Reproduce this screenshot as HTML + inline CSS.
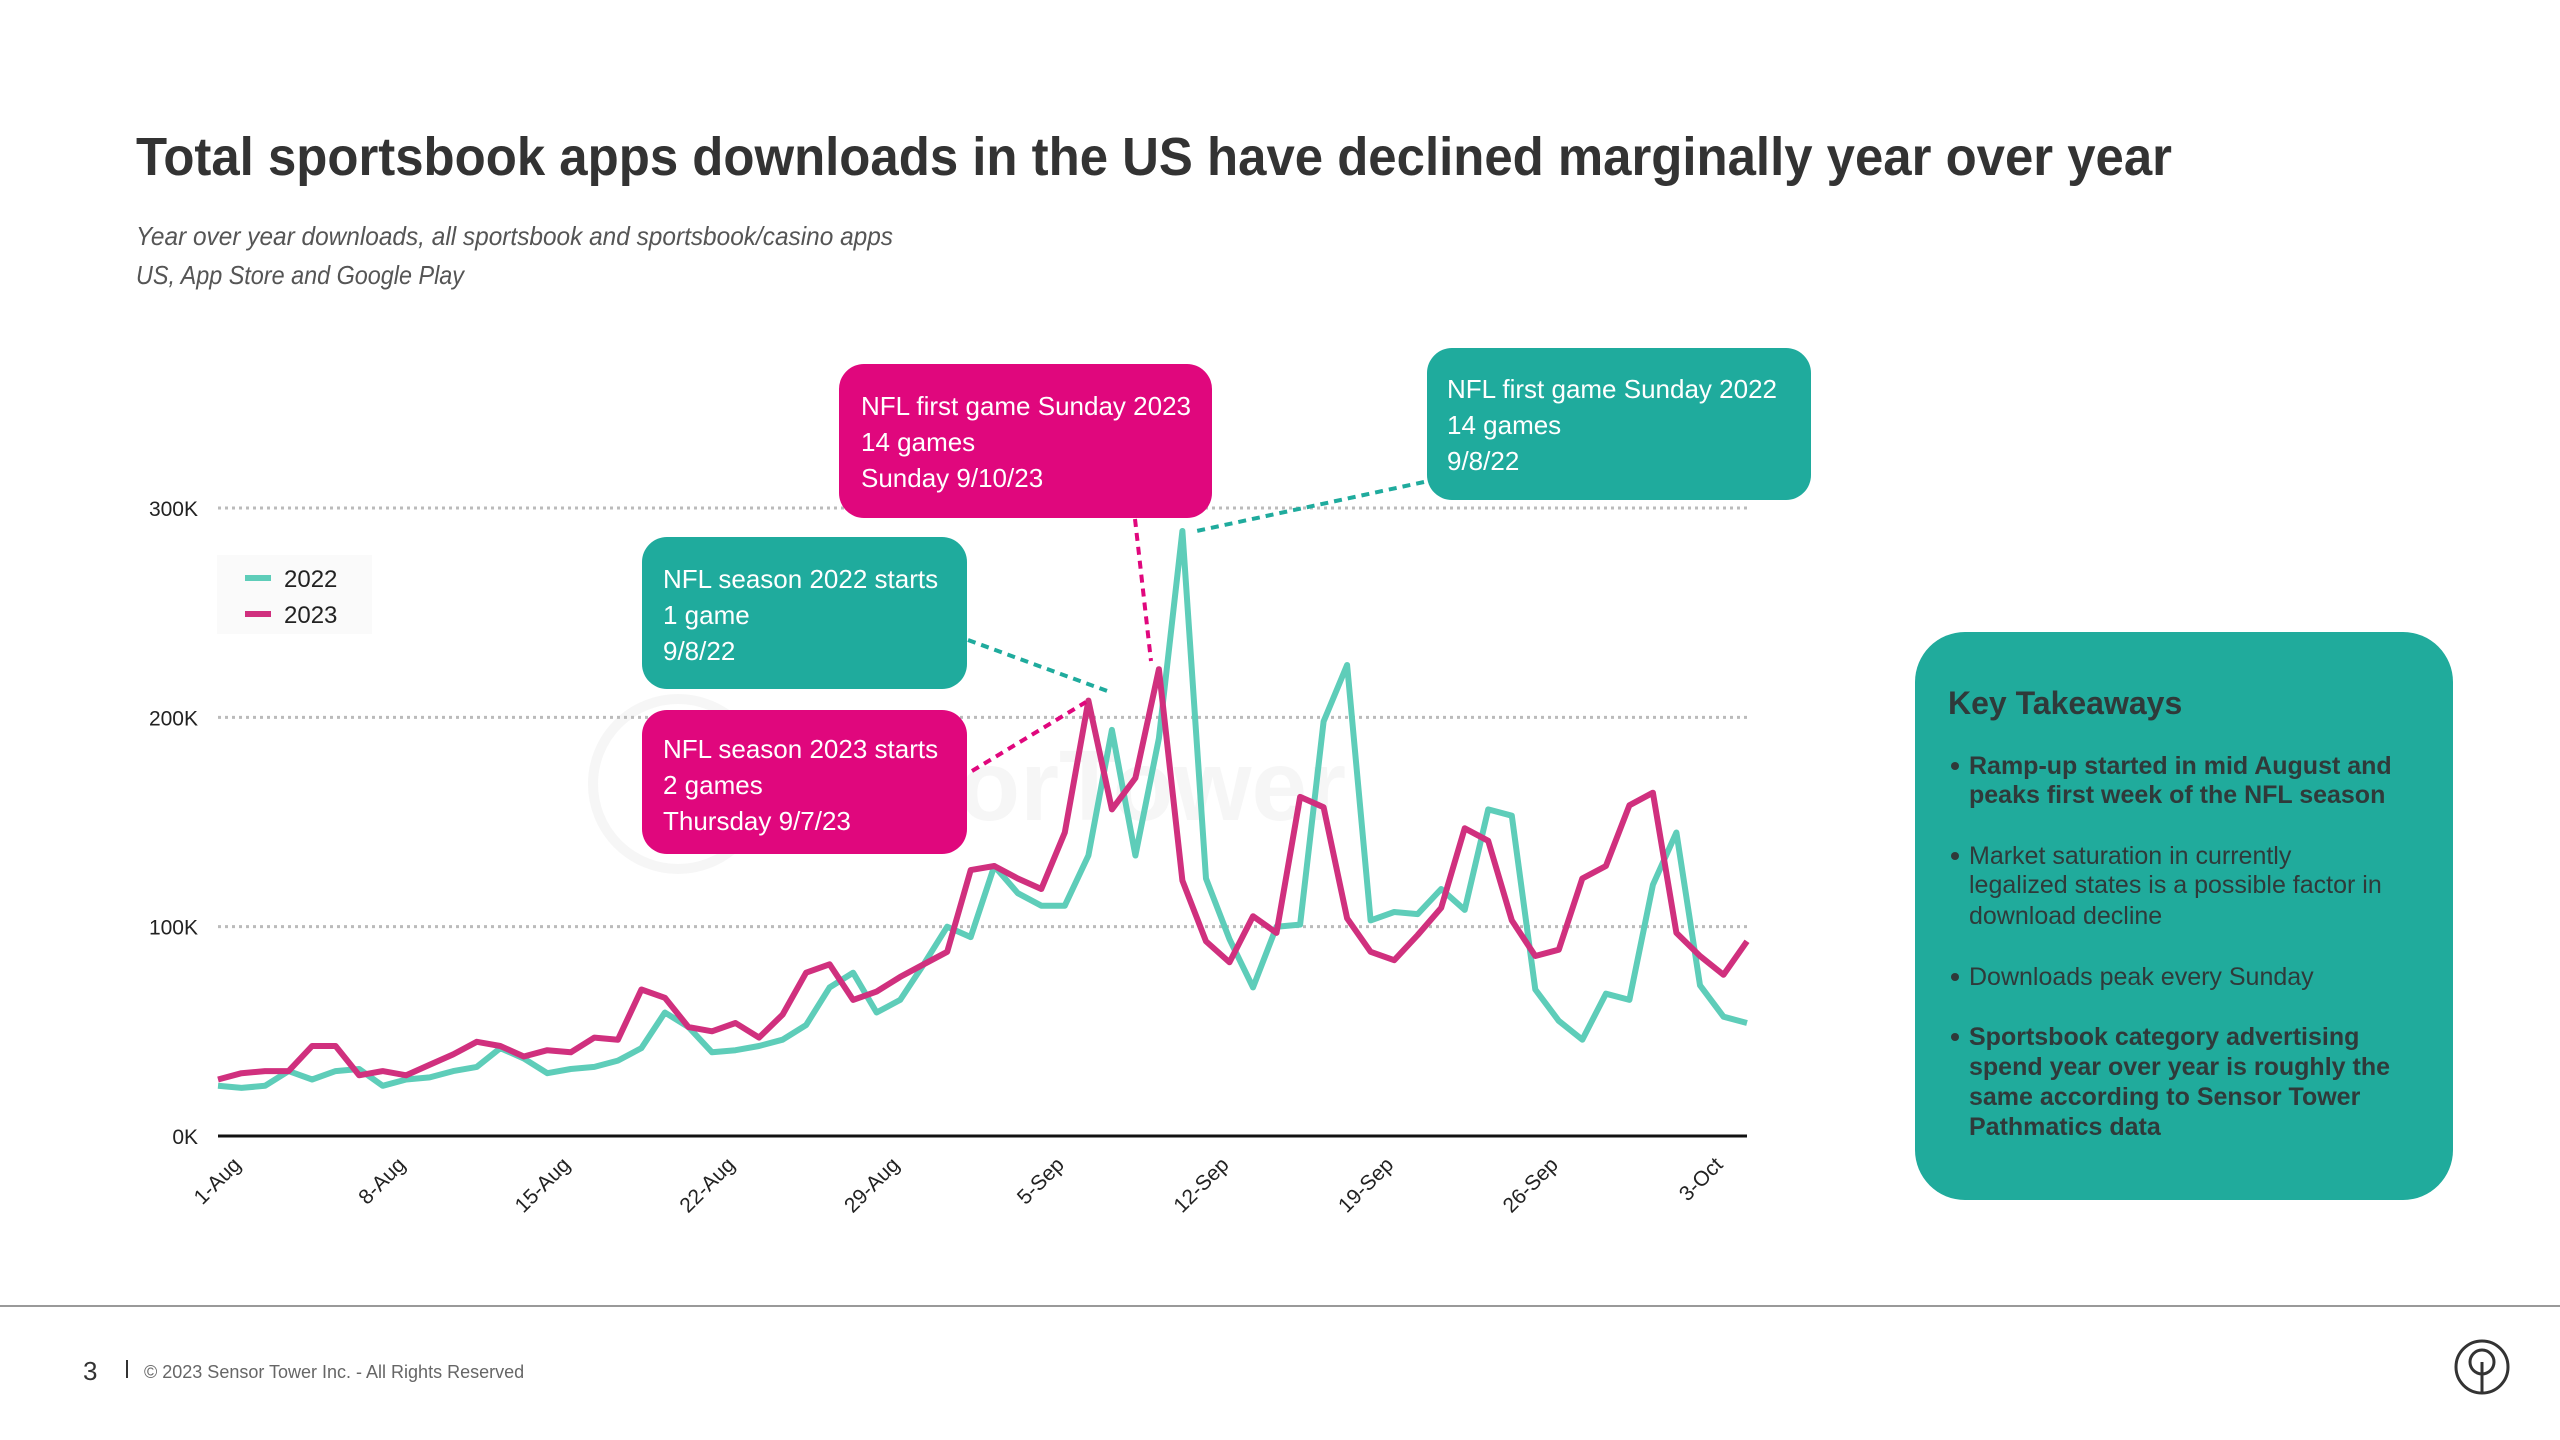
<!DOCTYPE html>
<html><head><meta charset="utf-8"><style>
html,body{margin:0;padding:0;background:#fff;}
svg{display:block;font-family:"Liberation Sans",sans-serif;}
</style></head><body>
<svg id="root" width="2560" height="1440" viewBox="0 0 2560 1440" xmlns="http://www.w3.org/2000/svg">
<text x="136" y="175" font-size="54" font-weight="bold" fill="#333" textLength="2036" lengthAdjust="spacingAndGlyphs">Total sportsbook apps downloads in the US have declined marginally year over year</text>
<text x="136" y="245" font-size="26" font-style="italic" fill="#555" textLength="757" lengthAdjust="spacingAndGlyphs">Year over year downloads, all sportsbook and sportsbook/casino apps</text>
<text x="136" y="284" font-size="26" font-style="italic" fill="#555" textLength="328" lengthAdjust="spacingAndGlyphs">US, App Store and Google Play</text>

<g opacity="0.5">
<circle cx="678" cy="784" r="85" fill="none" stroke="#eee" stroke-width="10"/>
<text x="720" y="820" font-size="100" font-weight="bold" fill="#eee">SensorTower</text>
</g>

<g id="grid"></g>
<g id="axes"></g>
<g id="series"></g>

<g>
<rect x="217" y="555" width="155" height="79" fill="#fafafa"/>
<line x1="245" y1="578" x2="271" y2="578" stroke="#5ecdb9" stroke-width="6"/>
<text x="284" y="587" font-size="24" fill="#222">2022</text>
<line x1="245" y1="614" x2="271" y2="614" stroke="#d0307e" stroke-width="6"/>
<text x="284" y="623" font-size="24" fill="#222">2023</text>
</g>

<g font-size="26" fill="#fff">
<line x1="1135" y1="519" x2="1151" y2="661" stroke="#e0077d" stroke-width="4" stroke-dasharray="8,6"/>
<line x1="1424" y1="482" x2="1192" y2="532" stroke="#1fab9d" stroke-width="4" stroke-dasharray="8,6"/>
<line x1="968" y1="640" x2="1110" y2="692" stroke="#1fab9d" stroke-width="4" stroke-dasharray="8,6"/>
<line x1="972" y1="771" x2="1086" y2="702" stroke="#e0077d" stroke-width="4" stroke-dasharray="8,6"/>

<g>
<rect x="839" y="364" width="373" height="154" rx="25" fill="#e0077d"/>
<text x="861" y="415" fill="#fff">NFL first game Sunday 2023</text>
<text x="861" y="451" fill="#fff">14 games</text>
<text x="861" y="487" fill="#fff">Sunday 9/10/23</text>
</g>
<g>
<rect x="1427" y="348" width="384" height="152" rx="25" fill="#1fab9d"/>
<text x="1447" y="398" fill="#fff">NFL first game Sunday 2022</text>
<text x="1447" y="434" fill="#fff">14 games</text>
<text x="1447" y="470" fill="#fff">9/8/22</text>
</g>
<g>
<rect x="642" y="537" width="325" height="152" rx="25" fill="#1fab9d"/>
<text x="663" y="588" fill="#fff">NFL season 2022 starts</text>
<text x="663" y="624" fill="#fff">1 game</text>
<text x="663" y="660" fill="#fff">9/8/22</text>
</g>
<g>
<rect x="642" y="710" width="325" height="144" rx="25" fill="#e0077d"/>
<text x="663" y="758" fill="#fff">NFL season 2023 starts</text>
<text x="663" y="794" fill="#fff">2 games</text>
<text x="663" y="830" fill="#fff">Thursday 9/7/23</text>
</g>
</g>

<g fill="#2f3a3a">
<rect x="1915" y="632" width="538" height="568" rx="50" fill="#20ab9c"/>
<text x="1948" y="714" font-size="32" font-weight="bold">Key Takeaways</text>
<g font-size="25">
<circle cx="1955" cy="766" r="4"/>
<text x="1969" y="774" font-weight="bold">Ramp-up started in mid August and</text>
<text x="1969" y="803" font-weight="bold">peaks first week of the NFL season</text>
<circle cx="1955" cy="856" r="4"/>
<text x="1969" y="864">Market saturation in currently</text>
<text x="1969" y="893">legalized states is a possible factor in</text>
<text x="1969" y="924">download decline</text>
<circle cx="1955" cy="977" r="4"/>
<text x="1969" y="985">Downloads peak every Sunday</text>
<circle cx="1955" cy="1037" r="4"/>
<text x="1969" y="1045" font-weight="bold">Sportsbook category advertising</text>
<text x="1969" y="1075" font-weight="bold">spend year over year is roughly the</text>
<text x="1969" y="1105" font-weight="bold">same according to Sensor Tower</text>
<text x="1969" y="1135" font-weight="bold">Pathmatics data</text>
</g>
</g>

<g>
<line x1="0" y1="1306" x2="2560" y2="1306" stroke="#999" stroke-width="2"/>
<text x="83" y="1380" font-size="26" fill="#333">3</text>
<line x1="127" y1="1360" x2="127" y2="1378" stroke="#333" stroke-width="2"/>
<text x="144" y="1378" font-size="18" fill="#666">© 2023 Sensor Tower Inc. - All Rights Reserved</text>
<g fill="none" stroke="#333" stroke-width="3">
<circle cx="2482" cy="1367" r="26"/>
<circle cx="2482" cy="1362" r="12"/>
<line x1="2482" y1="1362" x2="2482" y2="1392"/>
</g>
</g>
</svg>
<script>
const categories = ["1-Aug","8-Aug","15-Aug","22-Aug","29-Aug","5-Sep","12-Sep","19-Sep","26-Sep","3-Oct"];
const tickDayIndex = [0,7,14,21,28,35,42,49,56,63];
const yTicks = [0,100,200,300];
const yTickLabels = ["0K","100K","200K","300K"];
const series2022 = [24,23,24,31,27,31,32,24,27,28,31,33,42,37,30,32,33,36,42,59,52,40,41,43,46,53,71,78,59,65,82,100,95,129,116,110,110,134,194,134,190,289,123,94,71,100,101,198,225,103,107,106,118,108,156,153,70,55,46,68,65,120,145,72,57,54];
const series2023 = [27,30,31,31,43,43,29,31,29,34,39,45,43,38,41,40,47,46,70,66,52,50,54,47,58,78,82,65,69,76,82,88,127,129,123,118,145,208,156,171,223,122,93,83,105,97,162,157,104,88,84,96,109,147,141,103,86,89,123,129,158,164,97,86,77,93];

const NS = "http://www.w3.org/2000/svg";
const X0 = 218, X1 = 1747, Y0 = 1136, Y300 = 508;
const nPts = series2022.length;
function xScale(i){ return X0 + (X1 - X0) * i / (nPts - 1); }
function yScale(v){ return Y0 - (Y0 - Y300) * v / 300; }
function mk(tag, attrs){ const e = document.createElementNS(NS, tag); for (const k in attrs) e.setAttribute(k, attrs[k]); return e; }

const grid = document.getElementById('grid');
const axes = document.getElementById('axes');
yTicks.forEach((t, i) => {
  const y = yScale(t);
  if (t > 0) {
    const g = mk('line', {x1: X0, x2: X1, y1: y, y2: y, stroke: '#bbb', 'stroke-width': 3, 'stroke-dasharray': '3,4'});
    
    
    grid.appendChild(g);
  }
  const lab = mk('text', {x: 198, y: y + 8, 'font-size': 21, fill: '#222', 'text-anchor': 'end'});
  lab.textContent = yTickLabels[i];
  
  
  axes.appendChild(lab);
});
const base = mk('line', {x1: X0, x2: X1, y1: Y0, y2: Y0, stroke: '#111', 'stroke-width': 3});


axes.appendChild(base);
categories.forEach((c, i) => {
  const x = xScale(tickDayIndex[i]) + 24, y = Y0 + 30;
  const t = mk('text', {x: x, y: y, 'font-size': 21, fill: '#222', 'text-anchor': 'end', transform: 'rotate(-45 ' + x + ' ' + y + ')'});
  t.textContent = c;
  
  
  axes.appendChild(t);
});

const sg = document.getElementById('series');
function drawLine(data, color, name){
  const pts = data.map((v, i) => xScale(i).toFixed(1) + ',' + yScale(v).toFixed(1)).join(' ');
  const p = mk('polyline', {points: pts, fill: 'none', stroke: color, 'stroke-width': 6, 'stroke-linejoin': 'round'});
  
  
  sg.appendChild(p);
}
drawLine(series2022, '#5ecdb9', 'line-2022');
drawLine(series2023, '#d0307e', 'line-2023');
</script>
</body></html>
